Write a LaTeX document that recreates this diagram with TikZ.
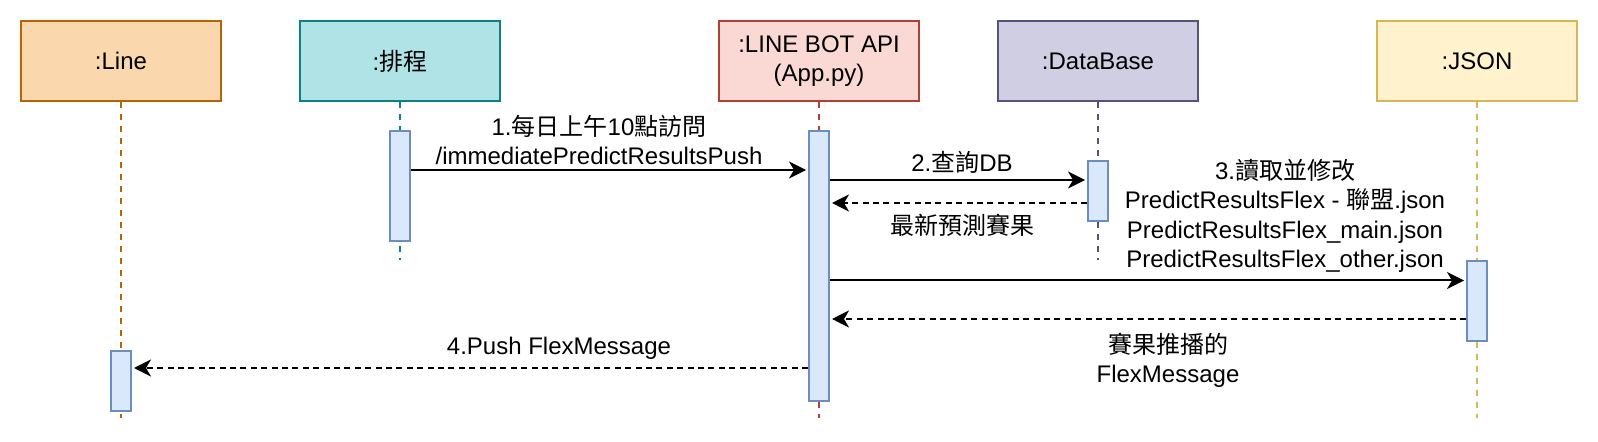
\documentclass[tikz,border=0pt]{standalone}
\usepackage{fontspec}
\setmainfont{Liberation Sans}
\newfontfamily\zhfont{Noto Sans CJK TC}
\usepackage{xcolor}
\usepackage{tikz}
\usetikzlibrary{arrows.meta, positioning, calc}

\definecolor{lineFill}{HTML}{FAD7AC}
\definecolor{lineDraw}{HTML}{B46504}
\definecolor{schedFill}{HTML}{B0E3E6}
\definecolor{schedDraw}{HTML}{0E8088}
\definecolor{botFill}{HTML}{FAD9D5}
\definecolor{botDraw}{HTML}{AE4132}
\definecolor{dbFill}{HTML}{D0CEE2}
\definecolor{dbDraw}{HTML}{56517E}
\definecolor{jsonFill}{HTML}{FFF2CC}
\definecolor{jsonDraw}{HTML}{D6B656}
\definecolor{actFill}{HTML}{DAE8FC}
\definecolor{actDraw}{HTML}{6C8EBF}

\begin{document}
\begin{tikzpicture}[
        x=0.5pt, y=-0.5pt,
        font=\fontsize{12pt}{14.6pt}\selectfont,
        every node/.style={align=center},
        actor/.style={rectangle, line width=1pt, minimum width=100pt,
                      minimum height=40pt, inner sep=0pt},
        lifeline/.style={line width=1pt, dash pattern=on 3pt off 3pt},
        activation/.style={rectangle, draw=actDraw, fill=actFill,
                           line width=1pt, minimum width=10pt, inner sep=0pt},
        msg/.style={-{Stealth[length=8.5pt, width=8.5pt, inset=2.5pt]}, line width=1pt, black,
                    shorten >=1pt},
        reply/.style={msg, dash pattern=on 3pt off 2.2pt},
        msglbl/.style={inner sep=0pt}
    ]
        \useasboundingbox (0,0) rectangle (1598,442);

        % Row 1: Participants
        \node[actor, fill=lineFill, draw=lineDraw] (line) at (121,61) {:Line};
        \node[actor, fill=schedFill, draw=schedDraw] (sched) at (400,61) {:{\zhfont 排程}};
        \node[actor, fill=botFill, draw=botDraw] (bot) at (819,61) {:LINE BOT API\\(App.py)};
        \node[actor, fill=dbFill, draw=dbDraw] (db) at (1098,61) {:DataBase};
        \node[actor, fill=jsonFill, draw=jsonDraw] (json) at (1477,61) {:JSON};

        % Lifelines
        \coordinate (lineend) at (121,418);
        \coordinate (schedend) at (400,260);
        \coordinate (botend) at (819,418);
        \coordinate (dbend) at (1098,260);
        \coordinate (jsonend) at (1477,418);
        \draw[lifeline, lineDraw] (line.south) -- (lineend);
        \draw[lifeline, schedDraw] (sched.south) -- (schedend);
        \draw[lifeline, botDraw] (bot.south) -- (botend);
        \draw[lifeline, dbDraw] (db.south) -- (dbend);
        \draw[lifeline, jsonDraw] (json.south) -- (jsonend);

        % Activation bars
        \node[activation, minimum height=30pt] (lineact) at (121,381) {};
        \node[activation, minimum height=55pt] (schedact) at (400,186) {};
        \node[activation, minimum height=135pt] (botact) at (819,266) {};
        \node[activation, minimum height=30pt] (dbact) at (1098,191) {};
        \node[activation, minimum height=40pt] (jsonact) at (1477,301) {};

        % Message labels
        \node[msglbl] (m1lbl) at (599,140)
            {1.{\zhfont 每日上午}10{\zhfont 點訪問}\\/immediatePredictResultsPush};
        \node[msglbl] (m2lbl) at (962,162) {2.{\zhfont 查詢}DB};
        \node[msglbl] (r2lbl) at (962,225) {\zhfont 最新預測賽果};
        \node[msglbl] (m3lbl) at (1285,216)
            {3.{\zhfont 讀取並修改}\\
             PredictResultsFlex - {\zhfont 聯盟}.json\\
             PredictResultsFlex\_main.json\\
             PredictResultsFlex\_other.json};
        \node[msglbl] (r3lbl) at (1168,360) {{\zhfont 賽果推播的}\\FlexMessage};
        \node[msglbl] (m4lbl) at (559,348) {4.Push FlexMessage};

        % --- Arrows ---
        \draw[msg] (schedact.east |- 0,170) -- (botact.west |- 0,170);
        \draw[msg] (botact.east |- 0,180) -- (dbact.west |- 0,180);
        \draw[reply] (dbact.west |- 0,203) -- (botact.east |- 0,203);
        \draw[msg] (botact.east |- 0,280.5) -- (jsonact.west |- 0,280.5);
        \draw[reply] (jsonact.west |- 0,319) -- (botact.east |- 0,319);
        \draw[reply] (botact.west |- 0,368) -- (lineact.east |- 0,368);
    \end{tikzpicture}
\end{document}
